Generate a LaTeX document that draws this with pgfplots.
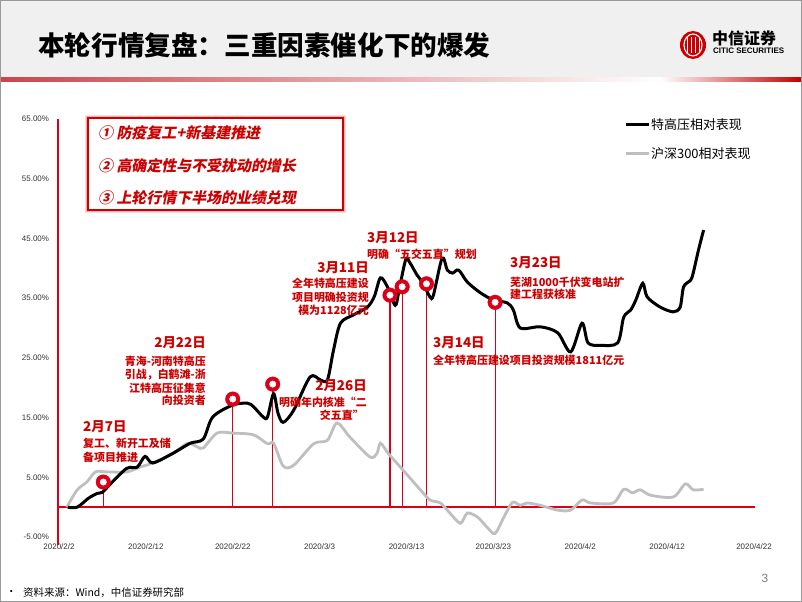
\documentclass[border=0pt]{standalone}
\usepackage{pgfplots}
\pgfplotsset{compat=1.18}
\usepackage{fontspec}
\usepackage{graphicx}
\setmainfont{Noto Sans CJK SC}
\newfontfamily\arial{Liberation Sans}
\newfontfamily\cjkslant{Noto Sans CJK SC}[FakeSlant=0.2]
\definecolor{cred}{RGB}{204,0,0}
\definecolor{mred}{RGB}{218,0,24}
\definecolor{hdr}{RGB}{240,240,240}
\definecolor{lgray}{RGB}{191,191,191}
\newcommand\dt{\fontsize{13.5}{15}\selectfont\bfseries\color{cred}}
\newcommand\ds{\fontsize{11}{12}\selectfont\bfseries\color{cred}}
\begin{document}
\begin{tikzpicture}[x=1bp,y=1bp]
\fill[white] (0,0) rectangle (802,602);
% header
\fill[hdr] (0,525) rectangle (802,602);
\shade[left color={rgb,255:red,200;green,70;blue,75}, right color=white] (0,520) rectangle (660,524.5);
\shade[left color=white, right color={rgb,255:red,192;green,0;blue,0}] (660,520) rectangle (802,524.5);
\node[anchor=west, inner sep=0, font=\fontsize{26.7}{30}\selectfont\bfseries] at (38,557) {本轮行情复盘：三重因素催化下的爆发};
% logo
\fill[cred] (693,557) ellipse (13 and 14);
\draw[white, line width=1.1] (693,557) ellipse (9 and 11);
\foreach \xx in {687,691,695,699} {\draw[white, line width=1] (\xx,549) -- (\xx,565);}
\node[anchor=west, inner sep=0, font=\fontsize{16}{18}\selectfont\bfseries] at (712,564) {中信证券};
\node[anchor=west, inner sep=0] at (713,551) {\resizebox{71bp}{!}{\arial\bfseries CITIC SECURITIES}};
% frame
\draw[gray!80, line width=1.2] (0.6,0.6) rectangle (801.4,601.4);
% footer
\node[anchor=west, inner sep=0, font=\fontsize{10.5}{12}\selectfont] at (6,9) {•};
\node[anchor=west, inner sep=0, font=\fontsize{10.5}{12}\selectfont] at (23,9) {资料来源：Wind，中信证券研究部};
\node[anchor=center, inner sep=0, font=\arial\fontsize{12}{14}\selectfont, text=gray] at (765,24) {3};
% axis
\begin{axis}[at={(59bp,65bp)}, anchor=south west, scale only axis,
  width=695bp, height=418bp,
  xmin=0, xmax=80, ymin=-5, ymax=65, clip=false,
  axis line style={draw=none}, tick style={draw=none},
  xtick={0,10,...,80},
  xticklabels={2020/2/2,2020/2/12,2020/2/22,2020/3/3,2020/3/13,2020/3/23,2020/4/2,2020/4/12,2020/4/22},
  ytick={-5,5,...,65},
  yticklabels={-5.00\%,5.00\%,15.00\%,25.00\%,35.00\%,45.00\%,55.00\%,65.00\%},
  ticklabel style={font=\arial\fontsize{8}{9}\selectfont, text=black!80},
  xticklabel style={yshift=-3.2bp},
  yticklabel style={xshift=-6.5bp},
]
\draw[mred, line width=1.3bp] (axis cs:-0.1,-6.3) -- (axis cs:-0.1,65);
\draw[mred, line width=1.3bp] (axis cs:-0.1,0) -- (axis cs:80.1,0);
\addplot[ycomb, mred, line width=1.1bp, no marks] coordinates {
(5.1,4.2) (20.0,18.1) (24.6,20.6) (38.1,35.5) (39.5,36.9) (42.3,37.4) (50.2,34.3)};
\addplot[lgray, line width=2.8bp, smooth, tension=0.5, no marks] coordinates {
(0.9,0.0) (2.1,2.9) (3.2,4.2) (4.2,5.9) (5.5,5.9) (7.8,5.9) (9.3,6.7) (10.8,7.4) (13.1,9.0) (14.8,10.7) (15.9,10.1) (16.6,9.9) (18.2,12.4) (20.0,12.4) (22.4,12.1) (24.0,10.6) (24.7,10.7) (25.8,6.9) (27.0,7.0) (29.3,10.6) (30.9,11.2) (32.0,14.1) (33.5,11.7) (35.8,8.4) (36.6,9.0) (37.0,10.7) (37.9,9.0) (39.3,6.7) (41.6,2.9) (42.7,1.2) (43.9,0.7) (45.0,-1.0) (46.2,-2.7) (47.0,-1.0) (48.2,-1.7) (49.3,-3.4) (50.2,-4.4) (51.2,-1.7) (52.2,0.8) (53.1,0.3) (53.9,0.7) (55.4,0.3) (57.4,-0.5) (58.9,-0.5) (60.2,1.2) (61.2,0.7) (63.8,0.7) (65.0,3.0) (66.0,2.4) (66.9,2.9) (68.1,2.0) (70.7,1.7) (72.1,3.9) (73.0,2.9) (74.2,3.0)};
\addplot[black, line width=3bp, smooth, tension=0.5, no marks] coordinates {
(1.0,0.0) (2.1,0.0) (3.4,1.5) (4.4,2.3) (5.0,2.5) (6.0,4.0) (7.8,6.5) (9.0,6.7) (9.9,8.5) (10.8,7.4) (13.1,9.0) (15.1,10.7) (16.6,11.4) (17.7,15.1) (20.0,17.1) (21.7,17.4) (22.4,16.8) (23.5,15.1) (24.0,15.1) (24.7,19.0) (25.2,15.8) (25.8,14.2) (27.0,16.2) (28.9,21.8) (30.1,21.3) (30.9,21.3) (31.6,26.3) (32.4,30.8) (33.9,32.2) (35.5,33.5) (36.3,35.3) (37.0,38.4) (37.8,36.9) (38.7,33.8) (39.1,36.0) (39.9,41.4) (40.4,40.9) (41.2,38.9) (41.9,37.5) (42.7,35.2) (43.1,35.5) (44.1,41.7) (44.7,39.7) (45.3,39.2) (46.0,39.7) (47.0,37.7) (48.5,35.9) (50.0,34.7) (51.6,34.2) (52.3,33.0) (53.1,30.0) (55.4,30.2) (57.4,29.2) (58.9,26.0) (60.2,30.8) (60.9,27.5) (62.3,27.1) (64.3,27.5) (65.0,31.8) (65.8,33.0) (66.4,34.7) (67.2,37.5) (67.7,35.2) (69.2,33.5) (70.7,32.7) (71.5,33.5) (71.9,36.9) (72.7,38.0) (73.0,39.2) (73.6,43.0) (74.2,46.4)};
\addplot[only marks, mark=*, mark size=7.3bp, mred, mark options={fill=mred, draw=mred}] coordinates {
(5.1,4.2) (20.0,18.1) (24.6,20.6) (38.1,35.5) (39.5,36.9) (42.3,37.4) (50.2,34.3)};
\addplot[only marks, mark=*, mark size=3.2bp, white, mark options={fill=white, draw=white}] coordinates {
(5.1,4.2) (20.0,18.1) (24.6,20.6) (38.1,35.5) (39.5,36.9) (42.3,37.4) (50.2,34.3)};
\end{axis}
% legend
\draw[black, line width=3bp] (626,477) -- (649,477);
\node[anchor=west, inner sep=0, font=\fontsize{13}{15}\selectfont] at (651,477) {特高压相对表现};
\draw[lgray, line width=3bp] (626,448) -- (649,448);
\node[anchor=west, inner sep=0, font=\fontsize{13}{15}\selectfont] at (651,448) {沪深300相对表现};
% red box
\draw[cred!12, line width=6bp] (88,392) rectangle (343,484);
\draw[cred!30, line width=3.5bp] (88,392) rectangle (343,484);
\draw[cred, line width=1.4bp, fill=white] (88,392) rectangle (343,484);
\node[anchor=west, inner sep=0, font=\cjkslant\fontsize{15}{17}\selectfont\bfseries, text=cred] at (98,469) {①\ 防疫复工+新基建推进};
\node[anchor=west, inner sep=0, font=\cjkslant\fontsize{15}{17}\selectfont\bfseries, text=cred] at (98,436) {②\ 高确定性与不受扰动的增长};
\node[anchor=west, inner sep=0, font=\cjkslant\fontsize{15}{17}\selectfont\bfseries, text=cred] at (98,404) {③\ 上轮行情下半场的业绩兑现};
% annotations
\node[anchor=west, inner sep=0, font=\dt] at (83,175) {2月7日};
\node[anchor=west, inner sep=0, font=\ds] at (83,159) {复工、新开工及储};
\node[anchor=west, inner sep=0, font=\ds] at (83,145) {备项目推进};
\node[anchor=east, inner sep=0, font=\dt] at (206,259) {2月22日};
\node[anchor=east, inner sep=0, font=\ds] at (206,241) {青海-河南特高压};
\node[anchor=east, inner sep=0, font=\ds] at (206,227) {引战，白鹤滩-浙};
\node[anchor=east, inner sep=0, font=\ds] at (206,214) {江特高压征集意};
\node[anchor=east, inner sep=0, font=\ds] at (206,202) {向投资者};
\node[anchor=east, inner sep=0, font=\dt] at (367,216) {2月26日};
\node[anchor=east, inner sep=0, font=\ds] at (367,200) {明确年内核准“二};
\node[anchor=east, inner sep=0, font=\ds] at (364,187) {交五直”};
\node[anchor=east, inner sep=0, font=\dt] at (369,334) {3月11日};
\node[anchor=east, inner sep=0, font=\ds] at (369,319) {全年特高压建设};
\node[anchor=east, inner sep=0, font=\ds] at (369,305) {项目明确投资规};
\node[anchor=east, inner sep=0, font=\ds] at (369,292) {模为1128亿元};
\node[anchor=west, inner sep=0, font=\dt] at (367,364) {3月12日};
\node[anchor=west, inner sep=0, font=\ds] at (367,348) {明确“五交五直”规划};
\node[anchor=west, inner sep=0, font=\dt] at (433,259) {3月14日};
\node[anchor=west, inner sep=0, font=\ds] at (433,242) {全年特高压建设项目投资规模1811亿元};
\node[anchor=west, inner sep=0, font=\dt] at (510,339) {3月23日};
\node[anchor=west, inner sep=0, font=\ds] at (510,320) {芜湖1000千伏变电站扩};
\node[anchor=west, inner sep=0, font=\ds] at (510,308) {建工程获核准};
\end{tikzpicture}
\end{document}
